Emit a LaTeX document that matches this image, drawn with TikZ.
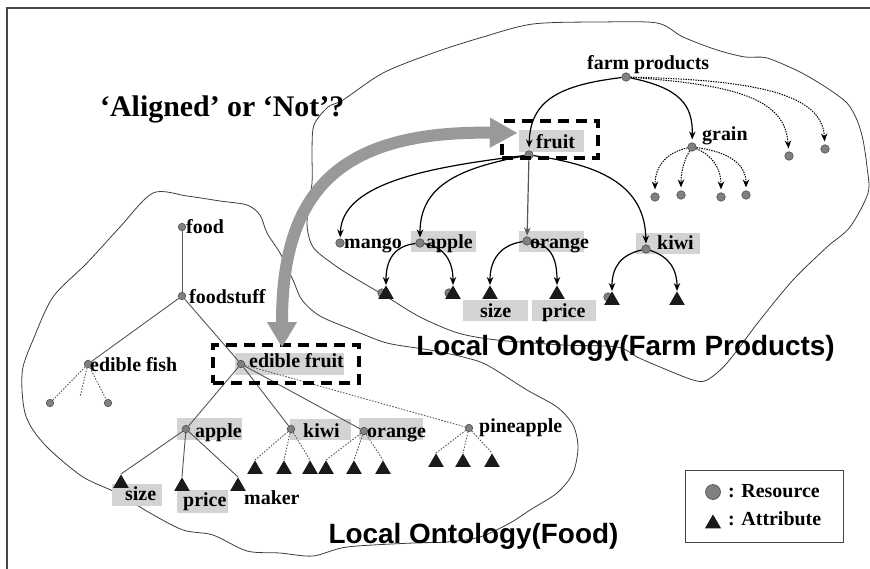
\documentclass[tikz,border=0pt]{standalone}
\usepackage{fontspec}
\setmainfont{Liberation Serif}
\newfontfamily\titlesans{Liberation Sans}
\usetikzlibrary{arrows.meta,shapes.geometric}
\definecolor{dotfill}{RGB}{128,128,128}
\definecolor{dotedge}{RGB}{80,80,80}
\definecolor{boxgray}{RGB}{211,211,211}
\definecolor{cloudline}{RGB}{60,60,60}
\definecolor{treeline}{RGB}{85,85,85}
\definecolor{trifill}{RGB}{26,26,26}
\definecolor{thickgray}{RGB}{153,153,153}
\definecolor{framegray}{RGB}{70,70,70}
\newcommand\lblfont{\fontsize{20}{22}\selectfont\bfseries}
\begin{document}
\begin{tikzpicture}[x=1bp,y=-1bp,
  res/.style={circle, fill=dotfill, draw=dotedge, line width=0.6bp, inner sep=0pt, minimum size=8.5bp},
  sres/.style={res, minimum size=7.5bp},
  attr/.style={regular polygon, regular polygon sides=3, fill=trifill, inner sep=0pt, minimum size=18bp, anchor=north},
  lbl/.style={font=\lblfont, inner sep=0pt, anchor=base west},
  gbox/.style={fill=boxgray},
  cloud/.style={draw=cloudline, line width=0.8bp},
  farr/.style={draw=black, line width=1.2bp, -{Stealth[length=8bp,width=6.5bp]}},
  fdot/.style={draw=black, line width=1bp, dash pattern=on 1.4bp off 1.1bp, -{Stealth[length=8bp,width=6.5bp]}},
  tline/.style={draw=treeline, line width=0.9bp},
  tdot/.style={draw=treeline, line width=0.9bp, dash pattern=on 1.5bp off 1.5bp},
  selbox/.style={draw=black, line width=3.2bp, dash pattern=on 11bp off 7bp, inner sep=0pt},
  titlefont/.style={font=\titlesans\fontsize{28}{32}\selectfont\bfseries, inner sep=0pt, anchor=base},
  bigarrow/.style={draw=thickgray, line width=12bp, {Triangle[width=30bp,length=25bp,line width=0.1bp]}-{Triangle[width=30bp,length=27bp,line width=0.1bp]}}
]
\useasboundingbox (0,0) rectangle (870,569);
% frame
\draw[draw=framegray, line width=1.3bp] (7,569) -- (7,8) -- (870,8);

% clouds
\draw[cloud] plot[smooth cycle, tension=0.5] coordinates {
 (343,100) (383,73) (433,53) (483,37) (533,24) (600,22) (657,23) (683,37) (717,50) (745,57) (767,58) (800,72) (827,88) (847,103) (857,120) (863,140) (867,167) (868,193) (850,227) (827,247) (793,280) (760,320) (727,363) (707,380) (693,380) (660,367) (637,357) (617,347) (563,345) (497,340) (458,333) (420,317) (387,297) (353,277) (333,264) (313,247) (307,223) (312,183) (312,150) (314,125) (328,107)};
\draw[cloud] plot[smooth cycle, tension=0.5] coordinates {
 (153,193) (187,196) (220,201) (247,205) (260,215) (267,233) (280,253) (293,280) (302,300) (320,316) (353,330) (387,343) (430,350) (463,357) (487,365) (527,390) (557,407) (573,425) (578,447) (573,473) (557,493) (530,510) (510,523) (480,537) (447,542) (413,543) (347,547) (313,556) (280,553) (247,551) (213,535) (183,530) (150,513) (117,493) (83,477) (50,450) (33,430) (25,413) (22,390) (23,367) (33,340) (53,297) (87,263) (120,227)};

% gray label boxes
\fill[gbox] (519,130) rectangle (584,152);
\fill[gbox] (411,231) rectangle (476,252);
\fill[gbox] (519,231) rectangle (584,252);
\fill[gbox] (636,233) rectangle (700,254);
\fill[gbox] (463,300) rectangle (528,321);
\fill[gbox] (532,300) rectangle (596,321);
\fill[gbox] (235,353) rectangle (344,375);
\fill[gbox] (177,418) rectangle (242,440);
\fill[gbox] (290,419) rectangle (351,440);
\fill[gbox] (359,418) rectangle (423,440);
\fill[gbox] (112,484) rectangle (162,506);
\fill[gbox] (177,490) rectangle (228,513);

% ---------- Farm products ontology ----------
\node[res] (fp) at (626,77) {};
\node[res] (fruit) at (529,155) {};
\node[res] (grain) at (692,147) {};
\node[res] (fpa) at (789,156) {};
\node[res] (fpb) at (825,149) {};
\node[res] (g1) at (655,197) {};
\node[res] (g2) at (681,195) {};
\node[res] (g3) at (721,197) {};
\node[res] (g4) at (746,195) {};
\node[res] (mango) at (340,243) {};
\node[res] (fapple) at (420,243) {};
\node[res] (forange) at (527,241) {};
\node[res] (fkiwi) at (646,249) {};
% partly hidden resource dots under triangles
\node[res] (hid1) at (382,293) {};
\node[res] (hid2) at (449,293) {};
\node[res] (hid3) at (608,297) {};
% attributes
\node[attr] (fa1) at (386,285) {};
\node[attr] (fa2) at (453,285) {};
\node[attr] (fo1) at (490,285) {};
\node[attr] (fo2) at (557,285) {};
\node[attr] (fk1) at (612,291) {};
\node[attr] (fk2) at (677,291) {};

\draw[farr, shorten >=3bp] (fp) .. controls (560,85) and (530,100) .. (fruit);
\draw[farr, shorten >=3bp] (fp) .. controls (680,88) and (693,105) .. (grain);
\draw[fdot, shorten >=3bp] (fp) .. controls (740,85) and (785,100) .. (fpa);
\draw[fdot, shorten >=3bp] (fp) .. controls (760,80) and (822,95) .. (fpb);
\draw[fdot, shorten >=3bp] (grain) .. controls (668,152) and (655,165) .. (g1);
\draw[fdot, shorten >=3bp] (grain) .. controls (684,160) and (681,172) .. (g2);
\draw[fdot, shorten >=3bp] (grain) .. controls (712,155) and (721,168) .. (g3);
\draw[fdot, shorten >=3bp] (grain) .. controls (730,152) and (746,165) .. (g4);
\draw[farr, shorten >=1bp] (fruit) .. controls (420,168) and (342,185) .. (mango);
\draw[farr, shorten >=1bp] (fruit) .. controls (460,168) and (420,185) .. (fapple);
\draw[farr, draw=treeline, shorten >=1bp] (fruit) -- (forange);
\draw[farr, shorten >=1bp] (fruit) .. controls (600,165) and (645,185) .. (fkiwi);
\draw[farr] (fapple) .. controls (394,246) and (386,260) .. (fa1.north);
\draw[farr] (fapple) .. controls (445,247) and (453,262) .. (fa2.north);
\draw[farr] (forange) .. controls (500,245) and (490,260) .. (fo1.north);
\draw[farr] (forange) .. controls (553,245) and (557,262) .. (fo2.north);
\draw[farr] (fkiwi) .. controls (620,255) and (612,268) .. (fk1.north);
\draw[farr] (fkiwi) .. controls (670,257) and (677,270) .. (fk2.north);

\node[lbl] (tfp) at (587,70) {farm products};
\node[lbl] (tfruit) at (536,149) {fruit};
\node[lbl] (tgrain) at (702,141) {grain};
\node[lbl] (tmango) at (344,249) {mango};
\node[lbl] (tfapple) at (426,249) {apple};
\node[lbl] (tforange) at (530,249) {orange};
\node[lbl] (tfkiwi) at (657,250) {kiwi};
\node[lbl] (tfsize) at (480,317) {size};
\node[lbl] (tfprice) at (542,317) {price};

% ---------- Food ontology ----------
\node[sres] (food) at (182,227) {};
\node[sres] (foodstuff) at (182,296) {};
\node[sres] (efish) at (88,364) {};
\node[sres] (efruit) at (241,364) {};
\node[sres] (fish1) at (50,403) {};
\coordinate (fish2) at (80,397);
\node[sres] (fish3) at (108,403) {};
\node[sres] (apple) at (186,429) {};
\node[sres] (kiwi) at (291,429) {};
\node[sres] (orange) at (364,431) {};
\node[sres] (pine) at (469,428) {};

\node[attr] (asize) at (121,474) {};
\node[attr] (aprice) at (182,477) {};
\node[attr] (amaker) at (238,477) {};
\node[attr] (k1) at (255,460) {};
\node[attr] (k2) at (284,460) {};
\node[attr] (k3) at (310,460) {};
\node[attr] (o1) at (326,460) {};
\node[attr] (o2) at (354,460) {};
\node[attr] (o3) at (383,460) {};
\node[attr] (p1) at (436,453) {};
\node[attr] (p2) at (463,453) {};
\node[attr] (p3) at (492,453) {};

\draw[tline] (food) -- (foodstuff);
\draw[tline] (foodstuff) -- (efish);
\draw[tline] (foodstuff) -- (efruit);
\draw[tdot] (efish) -- (fish1);
\draw[tdot] (efish) -- (fish2);
\draw[tdot] (efish) -- (fish3);
\draw[tline] (efruit) -- (apple);
\draw[tline] (efruit) -- (kiwi);
\draw[tline] (efruit) -- (orange);
\draw[tdot] (efruit) -- (pine);
\draw[tline] (apple) -- (asize.north);
\draw[tline] (apple) -- (aprice.north);
\draw[tline] (apple) -- (amaker.north);
\foreach \t in {k1,k2,k3} \draw[tdot] (kiwi) -- (\t.north);
\foreach \t in {o1,o2,o3} \draw[tdot] (orange) -- (\t.north);
\foreach \t in {p1,p2,p3} \draw[tdot] (pine) -- (\t.north);

\node[lbl] (tfood) at (186,234) {food};
\node[lbl] (tfoodstuff) at (189,303) {foodstuff};
\node[lbl] (tefish) at (90,371) {edible fish};
\node[lbl] (tefruit) at (249,367) {edible fruit};
\node[lbl] (tapple) at (195,437) {apple};
\node[lbl] (tkiwi) at (303,437) {kiwi};
\node[lbl] (torange) at (367,437) {orange};
\node[lbl] (tpine) at (479,432) {pineapple};
\node[lbl] (tsize) at (125,500) {size};
\node[lbl] (tprice) at (183,506) {price};
\node[lbl] (tmaker) at (244,504) {maker};

% titles
\node[font=\fontsize{30}{34}\selectfont\bfseries, inner sep=0pt, anchor=base west] (question) at (100,117) {‘Aligned’ or ‘Not’?};
\node[titlefont] (farmtitle) at (625.5,355) {Local Ontology(Farm Products)};
\node[titlefont] (foodtitle) at (473.5,543) {Local Ontology(Food)};

% selection boxes
\node[selbox, minimum width=96bp, minimum height=37bp] (fruitsel) at (550,139.5) {};
\node[selbox, minimum width=146bp, minimum height=38bp] (efruitsel) at (286,364) {};

% thick alignment arrow
\coordinate (bigA) at (282,347);
\coordinate (bigB) at (517,133);
\draw[bigarrow] (bigA) .. controls (282,190) and (340,131) .. (bigB);

% legend
\node[draw=framegray, line width=1bp, minimum width=158bp, minimum height=72bp, inner sep=0pt] (legend) at (764,506) {};
\node[res, minimum size=15bp] (legres) at (713,492) {};
\node[attr, minimum size=18.5bp] (legattr) at (713,514) {};
\node[lbl] (tlegres) at (728,497) {: Resource};
\node[lbl] (tlegattr) at (728,525) {: Attribute};
\end{tikzpicture}
\end{document}
